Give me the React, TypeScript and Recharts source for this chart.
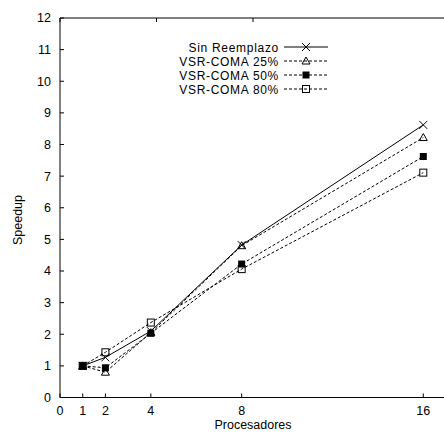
import React from 'react';
import { LineChart, Line, XAxis, YAxis } from 'recharts';

const procesadores = [1, 2, 4, 8, 16];
const sinReemplazo = [1, 1.27, 2.1, 4.82, 8.62];
const vsr25 = [1, 0.8, 2.05, 4.8, 8.22];
const vsr50 = [1, 0.94, 2.03, 4.22, 7.62];
const vsr80 = [1, 1.43, 2.37, 4.06, 7.11];
const xTicks = [0, 1, 2, 4, 8, 16];
const yTicks = [0, 1, 2, 3, 4, 5, 6, 7, 8, 9, 10, 11, 12];

const data = procesadores.map((p, i) => ({
  p,
  sin: sinReemplazo[i],
  v25: vsr25[i],
  v50: vsr50[i],
  v80: vsr80[i],
}));

const FONT = '"Liberation Sans", Arial, sans-serif';

type Marker = (cx: number, cy: number, key?: string) => React.ReactElement;

const cross: Marker = (cx, cy, key) => (
  <path key={key} d={`M${cx - 4},${cy - 4}L${cx + 4},${cy + 4}M${cx - 4},${cy + 4}L${cx + 4},${cy - 4}`} stroke="#000" fill="none" />
);
const triangle: Marker = (cx, cy, key) => (
  <path key={key} d={`M${cx},${cy - 4}L${cx + 4},${cy + 3}L${cx - 4},${cy + 3}Z`} stroke="#000" fill="none" />
);
const filledSquare: Marker = (cx, cy, key) => (
  <rect key={key} x={cx - 3.5} y={cy - 3.5} width={7} height={7} fill="#000" />
);
const openSquare: Marker = (cx, cy, key) => (
  <rect key={key} x={cx - 3.5} y={cy - 3.5} width={7} height={7} stroke="#000" fill="none" />
);

const dotOf = (m: Marker, name: string) => (props: any) => m(props.cx, props.cy, `${name}-${props.index}`);

const series = [
  { key: 'sin', name: 'Sin Reemplazo', marker: cross, dash: undefined },
  { key: 'v25', name: 'VSR-COMA 25%', marker: triangle, dash: '3 2' },
  { key: 'v50', name: 'VSR-COMA 50%', marker: filledSquare, dash: '3 2' },
  { key: 'v80', name: 'VSR-COMA 80%', marker: openSquare, dash: '3 2' },
];

const tickStyle = { fontSize: 12.5, fill: '#000', fontFamily: FONT };

export default function App() {
  return (
    <div style={{ position: 'absolute', left: 0, top: 0, width: 444, height: 433, overflow: 'hidden', background: '#fff', fontFamily: FONT }}>
      <LineChart width={448} height={433} data={data} margin={{ top: 17, right: 0, bottom: 0, left: 0 }}>
        <XAxis
          dataKey="p"
          type="number"
          domain={[0, 17]}
          ticks={xTicks}
          interval={0}
          height={35.5}
          tickSize={-4}
          tickMargin={13}
          stroke="#000"
          tick={tickStyle}
          label={{ value: 'Procesadores', position: 'insideBottom', offset: 4, fill: '#000', fontSize: 12.5 }}
        />
        <XAxis
          xAxisId="top"
          orientation="top"
          type="number"
          domain={[0, 17]}
          ticks={xTicks}
          interval={0}
          height={1}
          tickSize={-4}
          stroke="#000"
          tickFormatter={() => ''}
        />
        <YAxis
          type="number"
          domain={[0, 12]}
          ticks={yTicks}
          interval={0}
          width={60}
          tickSize={-4}
          tickMargin={13}
          stroke="#000"
          tick={tickStyle}
        />
        <YAxis
          yAxisId="right"
          orientation="right"
          type="number"
          domain={[0, 12]}
          ticks={yTicks}
          interval={0}
          width={2}
          tickSize={-4}
          stroke="#000"
          tickFormatter={() => ''}
        />
        {series.map((s) => (
          <Line
            key={s.key}
            type="linear"
            dataKey={s.key}
            name={s.name}
            stroke="#000"
            strokeWidth={1}
            strokeDasharray={s.dash}
            dot={dotOf(s.marker, s.key)}
            activeDot={false}
            isAnimationActive={false}
          />
        ))}
      </LineChart>
      <svg width={444} height={433} style={{ position: 'absolute', left: 0, top: 0, pointerEvents: 'none' }}>
        <text transform="translate(22,220) rotate(-90)" textAnchor="middle" fontSize={12.5} fontFamily={FONT} fill="#000">
          Speedup
        </text>
        {series.map((s, i) => {
          const y = 47 + i * 14;
          return (
            <g key={s.key}>
              <text x={279} y={y + 4.5} textAnchor="end" fontSize={12} letterSpacing={0.7} fontFamily={FONT} fill="#000">
                {s.name}
              </text>
              <line x1={284} x2={328} y1={y} y2={y} stroke="#000" strokeDasharray={s.dash} />
              {s.marker(306, y)}
            </g>
          );
        })}
      </svg>
    </div>
  );
}
